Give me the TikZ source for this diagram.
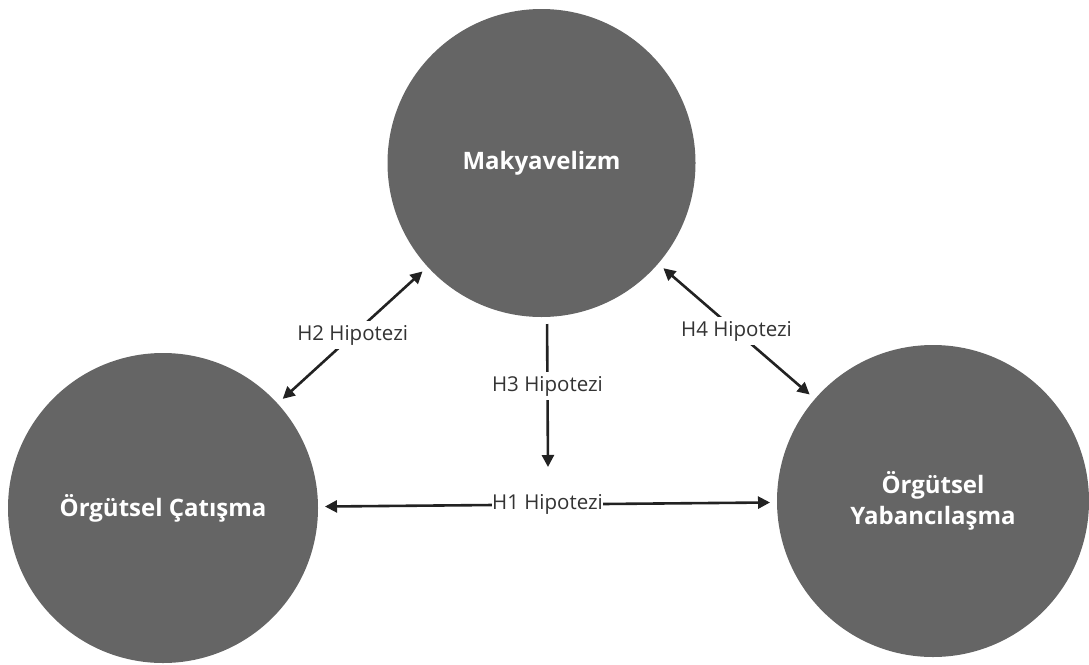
\documentclass[tikz,border=0pt]{standalone}
\usepackage{fontspec}
\setmainfont{Open Sans}
\usetikzlibrary{arrows.meta}
\definecolor{circfill}{HTML}{656565}
\definecolor{arrowcol}{HTML}{222222}
\definecolor{lblcol}{HTML}{333333}
\begin{document}
\begin{tikzpicture}[x=1pt,y=-1pt,
  concept/.style={circle, fill=circfill, draw=none, inner sep=0pt, outer sep=0pt,
    text=white, align=center, font=\bfseries\fontsize{24}{31}\selectfont},
  arrtip/.tip={Triangle[length=12pt,width=12pt]},
  dblarr/.style={draw=arrowcol, line width=2.6pt, arrtip-arrtip, shorten <=7pt, shorten >=7pt},
  onearr/.style={draw=arrowcol, line width=2.6pt, -arrtip, shorten <=7pt},
  lbl/.style={fill=white, text=lblcol, inner sep=4pt, font=\fontsize{20.5}{24}\selectfont}]
\useasboundingbox (0,0) rectangle (1089,664);
\node[concept, minimum size=308pt] (top) at (541.5,163) {Makyavelizm};
\node[concept, minimum size=310pt] (left) at (163,508) {Örgütsel Çatışma};
\node[concept, minimum size=312pt] (right) at (933,501) {Örgütsel\\Yabancılaşma};
\coordinate (h3end) at (548,467);
\draw[dblarr] (left) -- (top) node[midway, lbl] {H2 Hipotezi};
\draw[dblarr] (top) -- (right) node[midway, lbl] {H4 Hipotezi};
\draw[onearr] ([xshift=5.5pt]top.south) -- (h3end) node[pos=0.46, lbl] {H3 Hipotezi};
\draw[dblarr] (left) -- (right) node[midway, lbl, inner xsep=0.5pt, inner ysep=2pt] {H1 Hipotezi};
\end{tikzpicture}
\end{document}
